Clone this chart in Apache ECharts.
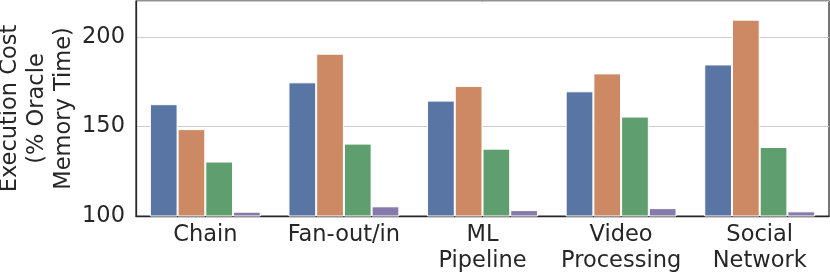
<!DOCTYPE html>
<html><head><meta charset="utf-8">
<script src="https://cdn.jsdelivr.net/npm/echarts@6/dist/echarts.min.js"></script>
<style>html,body{margin:0;padding:0;background:#fff}#c{width:830px;height:276px}</style>
</head><body><div id="c"></div>
<script>
const categories = ['Chain', 'Fan-out/in', 'ML\nPipeline', 'Video\nProcessing', 'Social\nNetwork'];
const seriesA = [162.4, 174.6, 164.4, 169.6, 184.6];
const seriesB = [148.5, 190.6, 172.6, 179.6, 209.6];
const seriesC = [130.4, 140.4, 137.6, 155.5, 138.5];
const seriesD = [102.4, 105.4, 103.3, 104.4, 102.6];
const yTicks = [100, 150, 200];
const colors = ['#5975a4', '#cc8963', '#5f9e6e', '#857aab'];

const chart = echarts.init(document.getElementById('c'), null, {renderer: 'canvas'});
const font = 'DejaVu Sans';
const mk = (data, i) => ({
  type: 'bar', data: data, barGap: '0%', barCategoryGap: '20%',
  itemStyle: {color: colors[i], borderColor: '#ffffff', borderWidth: 1},
  animation: false
});
chart.setOption({
  animation: false,
  grid: {left: 136, right: 1, top: 1, bottom: 60, show: true, borderColor: '#262626', borderWidth: 1.25,
    backgroundColor: 'transparent', containLabel: false, outerBoundsMode: 'none'},
  xAxis: {
    type: 'category', data: categories,
    axisLine: {show: true, lineStyle: {color: '#262626', width: 1.25}},
    axisTick: {show: false},
    axisLabel: {color: '#262626', fontFamily: font, fontSize: 22.5, lineHeight: 26, margin: 6, interval: 0}
  },
  yAxis: {
    type: 'value', min: 100, max: 220, interval: 50,
    name: 'Execution Cost\n(% Oracle\nMemory Time)',
    nameLocation: 'middle', nameRotate: 90, nameGap: 99, nameMoveOverlap: false,
    nameTextStyle: {color: '#262626', fontFamily: font, fontSize: 22.5, lineHeight: 27, align: 'center', verticalAlign: 'middle'},
    axisLine: {show: true, lineStyle: {color: '#262626', width: 1.25}},
    axisTick: {show: false},
    axisLabel: {color: '#262626', fontFamily: font, fontSize: 22.5, margin: 11,
      formatter: v => yTicks.includes(v) ? String(v) : ''},
    splitLine: {show: true, lineStyle: {color: '#cccccc', width: 1}}
  },
  series: [mk(seriesA, 0), mk(seriesB, 1), mk(seriesC, 2), mk(seriesD, 3)]
});
</script></body></html>
